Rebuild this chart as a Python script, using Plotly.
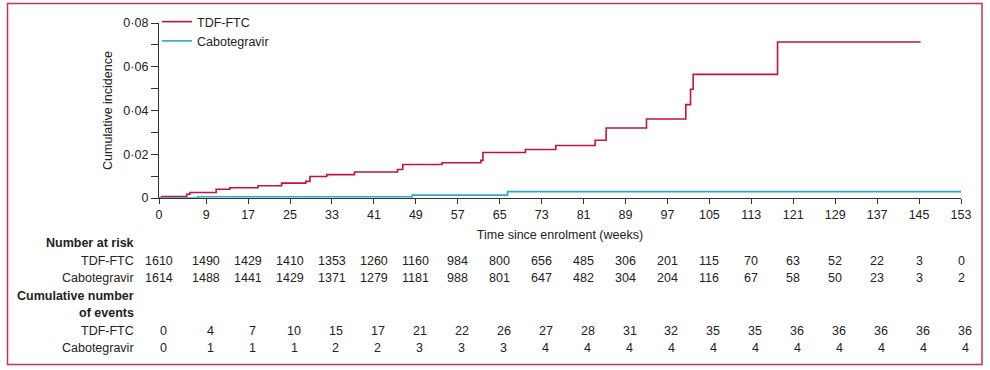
import plotly.graph_objects as go

# ---- data ----
tdf_weeks = [0, 0.5, 5.3, 5.9, 10.9, 13.5, 18.9, 23.4, 28.0, 28.8, 32.0, 37.3, 45.5, 46.5,
             54.0, 61.4, 61.8, 69.9, 75.7, 83.2, 85.3, 93.0, 100.5, 101.4, 101.9, 118.0, 145.3]
tdf_inc = [0, 0.0007, 0.0017, 0.0025, 0.0040, 0.0047, 0.0056, 0.0068, 0.0076, 0.0098, 0.0107,
           0.0119, 0.0130, 0.0153, 0.0161, 0.0172, 0.0208, 0.0222, 0.0240, 0.0264, 0.0320,
           0.0361, 0.0427, 0.0497, 0.0565, 0.0713, 0.0713]
cab_weeks = [0, 7.4, 48.3, 66.5, 153]
cab_inc = [0, 0.0006, 0.0013, 0.0029, 0.0029]

time_ticks = [0, 9, 17, 25, 33, 41, 49, 57, 65, 73, 81, 89, 97, 105, 113, 121, 129, 137, 145, 153]
risk_tdf = [1610, 1490, 1429, 1410, 1353, 1260, 1160, 984, 800, 656, 485, 306, 201, 115, 70, 63, 52, 22, 3, 0]
risk_cab = [1614, 1488, 1441, 1429, 1371, 1279, 1181, 988, 801, 647, 482, 304, 204, 116, 67, 58, 50, 23, 3, 2]
events_tdf = [0, 4, 7, 10, 15, 17, 21, 22, 26, 27, 28, 31, 32, 35, 35, 36, 36, 36, 36, 36]
events_cab = [0, 1, 1, 1, 2, 2, 3, 3, 3, 4, 4, 4, 4, 4, 4, 4, 4, 4, 4, 4]
y_ticks = [0, 0.02, 0.04, 0.06, 0.08]
y_tick_labels = ["0", "0·02", "0·04", "0·06", "0·08"]

RED = "#c01440"
CYAN = "#2ea8cc"
TXT = "#222222"
FONT = "Liberation Sans, Arial, sans-serif"
FS = 12.5

W, H = 990, 370
L, R, T, B = 159, 29, 23, 172
PW, PH = W - L - R, H - T - B


def px_x(px):
    return (px - L) / PW


def px_y(py):
    return (H - B - py) / PH


fig = go.Figure()
fig.add_trace(go.Scatter(x=tdf_weeks, y=tdf_inc, mode="lines", line=dict(color=RED, width=1.6, shape="hv"),
                         name="TDF-FTC"))
fig.add_trace(go.Scatter(x=cab_weeks, y=cab_inc, mode="lines", line=dict(color=CYAN, width=1.6, shape="hv"),
                         name="Cabotegravir"))

annotations = []
# row labels
rows = [
    ("<b>Number at risk</b>", 243.3),
    ("TDF-FTC", 261),
    ("Cabotegravir", 277.7),
    ("<b>Cumulative number</b>", 296),
    ("<b>of events</b>", 313.3),
    ("TDF-FTC", 330.7),
    ("Cabotegravir", 348.3),
]
for text, py in rows:
    annotations.append(dict(x=px_x(136), y=px_y(py), xref="paper", yref="paper", text=text,
                            showarrow=False, xanchor="right", yanchor="middle",
                            font=dict(family=FONT, size=FS, color=TXT)))

for vals, py, shift in [(risk_tdf, 261, 0), (risk_cab, 277.7, 0), (events_tdf, 330.7, 4), (events_cab, 348.3, 4)]:
    for t, v in zip(time_ticks, vals):
        annotations.append(dict(x=t, y=px_y(py), xref="x", yref="paper", text=str(v), showarrow=False,
                                xanchor="center", yanchor="middle", xshift=shift,
                                font=dict(family=FONT, size=FS, color=TXT)))

fig.update_layout(
    width=W, height=H,
    margin=dict(l=L, r=R, t=T, b=B, autoexpand=False),
    paper_bgcolor="white", plot_bgcolor="white",
    font=dict(family=FONT, size=FS, color=TXT),
    showlegend=True,
    legend=dict(x=px_x(157), y=px_y(7), xanchor="left", yanchor="top", bgcolor="rgba(0,0,0,0)",
                font=dict(family=FONT, size=FS, color=TXT), tracegroupgap=0, itemwidth=30,
                borderwidth=0),
    xaxis=dict(range=[0, 153], tickvals=time_ticks, ticks="outside", ticklen=5, tickcolor="#333",
               showline=True, linecolor="#333", linewidth=1.2, showgrid=False, zeroline=False,
               title=dict(text="Time since enrolment (weeks)", standoff=9,
                          font=dict(family=FONT, size=FS, color=TXT)),
               tickfont=dict(family=FONT, size=FS, color=TXT)),
    yaxis=dict(range=[0, 0.08], tickvals=y_ticks, ticktext=y_tick_labels, ticks="outside", ticklen=7,
               tickcolor="#333", showline=True, linecolor="#333", linewidth=1.2, showgrid=False,
               zeroline=False,
               minor=dict(ticks="outside", dtick=0.01, ticklen=7, tickcolor="#333", showgrid=False),
               title=dict(text="Cumulative incidence", standoff=7,
                          font=dict(family=FONT, size=FS, color=TXT)),
               tickfont=dict(family=FONT, size=FS, color=TXT)),
    annotations=annotations,
    shapes=[dict(type="rect", xref="paper", yref="paper", x0=px_x(7.5), x1=px_x(982), y0=px_y(364.5),
                 y1=px_y(3.5), line=dict(color="#c8305c", width=1.5), fillcolor="rgba(0,0,0,0)",
                 layer="below")],
)

fig.write_html("out.html", config={"displayModeBar": False},
               post_script="document.body.style.margin='0';")
